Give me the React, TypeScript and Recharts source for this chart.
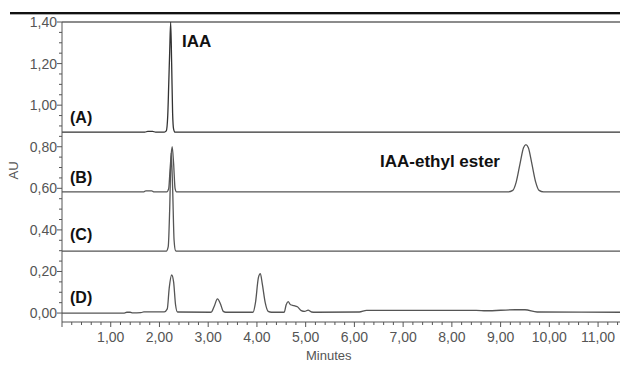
import { LineChart, Line, XAxis, YAxis, ReferenceLine } from 'recharts'

// retention time (min) / absorbance (AU), traces stacked with their own baselines
const TRACE_A: [number, number][] = [
  [0, 0.87], [1.7, 0.87], [1.76, 0.874], [1.86, 0.874], [1.92, 0.87],
  [2.1, 0.87], [2.14, 0.876], [2.17, 0.95], [2.19, 1.1], [2.21, 1.26],
  [2.23, 1.4], [2.25, 1.2], [2.27, 0.96], [2.29, 0.885], [2.32, 0.87],
  [11.45, 0.87],
]

const TRACE_B: [number, number][] = [
  [0, 0.583], [1.68, 0.583], [1.72, 0.588], [1.84, 0.588], [1.88, 0.583],
  [2.15, 0.583], [2.19, 0.6], [2.22, 0.7], [2.26, 0.8], [2.29, 0.72],
  [2.32, 0.6], [2.35, 0.583], [9.15, 0.583], [9.25, 0.59], [9.32, 0.63],
  [9.4, 0.72], [9.47, 0.795], [9.52, 0.81], [9.57, 0.795], [9.64, 0.72],
  [9.72, 0.63], [9.79, 0.59], [9.88, 0.583], [11.45, 0.583],
]

const TRACE_C: [number, number][] = [
  [0, 0.298], [2.14, 0.298], [2.18, 0.32], [2.21, 0.5], [2.24, 0.77],
  [2.27, 0.6], [2.3, 0.35], [2.33, 0.3], [2.36, 0.298], [11.45, 0.298],
]

const TRACE_D: [number, number][] = [
  [0, 0], [1.28, 0], [1.33, 0.004], [1.4, 0.004], [1.45, 0.001],
  [1.62, 0.002], [1.68, 0.006], [2.1, 0.006], [2.16, 0.02], [2.2, 0.12],
  [2.25, 0.183], [2.29, 0.15], [2.33, 0.04], [2.37, 0.005], [3.06, 0.004],
  [3.12, 0.03], [3.19, 0.068], [3.25, 0.045], [3.31, 0.008], [3.36, 0.004],
  [3.92, 0.004], [3.97, 0.05], [4.03, 0.17], [4.07, 0.19], [4.11, 0.14],
  [4.17, 0.05], [4.23, 0.008], [4.3, 0.004], [4.56, 0.004], [4.6, 0.04],
  [4.64, 0.055], [4.69, 0.04], [4.76, 0.036], [4.83, 0.03], [4.91, 0.012],
  [4.98, 0.008], [5.05, 0.014], [5.12, 0.005], [5.2, 0.004], [6.1, 0.005],
  [6.25, 0.013], [8.5, 0.013], [8.7, 0.011], [9.3, 0.016], [9.5, 0.016],
  [9.75, 0.005], [11.45, 0.004],
]

// every 0.2 min on x, every 0.05 AU on y; labelled ones are the whole minutes / 0.2 AU
const X_TICKS = Array.from({ length: 58 }, (_, i) => +(i * 0.2).toFixed(1))
const Y_TICKS = Array.from({ length: 29 }, (_, i) => +(i * 0.05).toFixed(2))

const toPts = (arr: [number, number][]) => arr.map(([t, v]) => ({ t, v }))

const FONT = '"Liberation Sans", Arial, sans-serif'
const AXIS = '#555'

const fmt = (v: number) => v.toFixed(2).replace('.', ',')

function XTick({ x, y, payload }: any) {
  const v = payload.value as number
  const major = Math.abs(v - Math.round(v)) < 1e-6
  return (
    <g>
      <line x1={x} x2={x} y1={y} y2={y + (major ? 5 : 3)} stroke={AXIS} />
      {major && v > 0 && (
        <text x={x} y={y + 20} textAnchor="middle" fontSize={14} fill="#555" fontFamily={FONT}>
          {fmt(v)}
        </text>
      )}
    </g>
  )
}

function YTick({ x, y, payload }: any) {
  const v = payload.value as number
  const major = Math.abs(v * 5 - Math.round(v * 5)) < 1e-6
  return (
    <g>
      <line x1={x} x2={x - (major ? 5 : 3)} y1={y} y2={y} stroke={AXIS} />
      {major && (
        <text x={x - 5} y={y + 5} textAnchor="end" fontSize={14} fill="#555" fontFamily={FONT}>
          {fmt(v)}
        </text>
      )}
    </g>
  )
}

const tag = (left: number, top: number, size = 16): React.CSSProperties => ({
  position: 'absolute', left, top, fontSize: size, fontWeight: 'bold',
  color: '#111', lineHeight: 1, whiteSpace: 'nowrap',
})

export default function App() {
  return (
    <div style={{ position: 'absolute', left: 0, top: 0, width: 620, height: 369, background: '#fff', fontFamily: FONT, overflow: 'hidden' }}>
      <div style={{ position: 'absolute', left: 10, top: 12, width: 610, height: 2, background: '#111' }} />
      <div style={{ position: 'absolute', left: 10, top: 14, width: 610, height: 1, background: '#aaa' }} />
      <LineChart width={620} height={369} margin={{ top: 22, right: 0, left: 0, bottom: 0 }}>
        <XAxis
          dataKey="t" type="number" domain={[0, 11.45]} ticks={X_TICKS} interval={0}
          height={47} tickSize={0} tickMargin={0} tickLine={false} tick={<XTick />}
          stroke={AXIS} allowDataOverflow
        />
        <YAxis
          type="number" domain={[-0.043, 1.4]} ticks={Y_TICKS} interval={0}
          width={62} tickSize={0} tickMargin={0} tickLine={false} tick={<YTick />}
          stroke={AXIS} allowDataOverflow
        />
        <ReferenceLine y={1.4} stroke="#666" strokeWidth={1.5} />
        <Line data={toPts(TRACE_A)} dataKey="v" type="monotone" stroke="#333" strokeWidth={1.3} dot={false} isAnimationActive={false} />
        <Line data={toPts(TRACE_B)} dataKey="v" type="monotone" stroke="#555" strokeWidth={1.3} dot={false} isAnimationActive={false} />
        <Line data={toPts(TRACE_C)} dataKey="v" type="monotone" stroke="#555" strokeWidth={1.3} dot={false} isAnimationActive={false} />
        <Line data={toPts(TRACE_D)} dataKey="v" type="monotone" stroke="#555" strokeWidth={1.3} dot={false} isAnimationActive={false} />
      </LineChart>
      <div style={tag(182, 33, 17)}>IAA</div>
      <div style={tag(380, 153, 17)}>IAA-ethyl ester</div>
      <div style={tag(70, 110)}>(A)</div>
      <div style={tag(70, 170)}>(B)</div>
      <div style={tag(70, 227)}>(C)</div>
      <div style={tag(70, 290)}>(D)</div>
      <div style={{ position: 'absolute', left: 306, top: 348, fontSize: 13, color: '#555' }}>Minutes</div>
      <div style={{ position: 'absolute', left: 4, top: 163, fontSize: 13, color: '#555', transform: 'rotate(-90deg)', transformOrigin: 'center' }}>AU</div>
    </div>
  )
}
